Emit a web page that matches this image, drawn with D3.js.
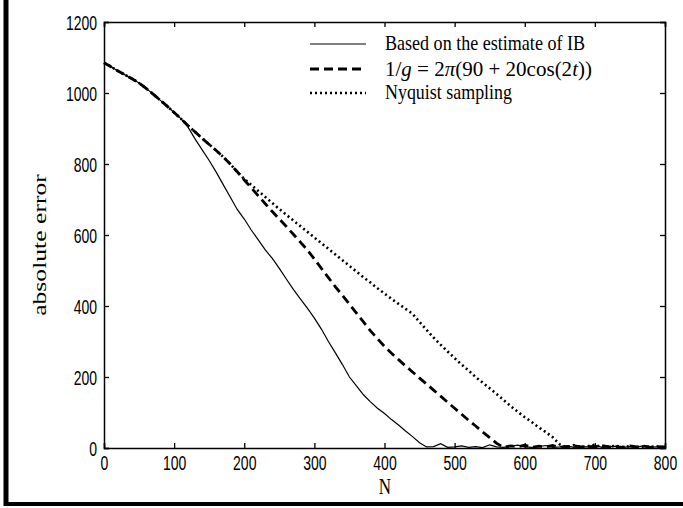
<!DOCTYPE html>
<html>
<head>
<meta charset="utf-8">
<script src="https://cdn.jsdelivr.net/npm/d3@7"></script>
<style>
  body { margin: 0; background: #fff; }
  .tick text { font-family: "Liberation Sans", Arial, sans-serif; font-size: 14px; }
</style>
</head>
<body>
<div class="container"></div>
<script>
// N sampled every 10 from 0 to 800
const nValues = d3.range(0, 810, 10);

const ibError = [1085, 1074, 1062, 1051, 1040, 1028, 1013, 997, 980, 963, 945, 927,
  903, 870, 840, 810, 777, 742, 707, 672, 645, 614, 586, 558, 534, 506, 476, 447, 420, 394,
  366, 335, 300, 268, 235, 200, 175, 150, 130, 112, 97, 80, 65, 48, 32, 15, 3,
  4, 12, 2, 3, 6, 2, 4, 1, 9, 3, 2, 5, 8, 3, 2, 4, 7, 2, 3, 6, 2, 4, 3, 8, 2, 3, 5, 2, 4, 3, 6, 2, 4, 3];

const gError = [1085, 1074, 1062, 1051, 1040, 1028, 1013, 997, 980, 963, 945, 927,
  908, 890, 872, 855, 838, 820, 800, 778, 755, 733, 710, 688, 666, 645, 624, 602, 580, 558,
  532, 506, 480, 454, 430, 405, 380, 355, 330, 308, 286, 267, 249, 231, 214, 197, 180, 163,
  146, 129, 112, 95, 78, 62, 45, 29, 13, 2,
  6, 3, 8, 2, 5, 3, 7, 2, 4, 6, 3, 5, 2, 7, 3, 4, 2, 6, 3, 5, 2, 4, 3];

const nyquistError = [1085, 1074, 1062, 1051, 1040, 1028, 1013, 997, 980, 963, 945, 927,
  908, 890, 872, 855, 838, 820, 800, 778, 758, 741, 724, 707, 690, 673, 657, 641, 625, 609,
  593, 577, 561, 545, 529, 513, 497, 481, 466, 450, 435, 420, 406, 392, 378, 355, 333, 311,
  291, 272, 253, 235, 218, 200, 184, 168, 152, 135, 118, 102, 87, 73, 58, 45, 30, 10, 2,
  8, 3, 5, 9, 2, 4, 6, 3, 5, 2, 4, 3, 5];

const xTicks = [0, 100, 200, 300, 400, 500, 600, 700, 800];
const yTicks = [0, 200, 400, 600, 800, 1000, 1200];

const seriesNames = ['Based on the estimate of IB', '1/g = 2π(90+20cos(2t))', 'Nyquist sampling'];

const width = 683;
const height = 508;
const margin = { top: 22, right: 18, bottom: 60, left: 104 };
const innerW = width - margin.left - margin.right;
const innerH = height - margin.top - margin.bottom;
const serif = '"Liberation Serif", "Times New Roman", serif';

const svg = d3.select('.container')
  .append('svg')
  .attr('width', width)
  .attr('height', height);

// outer frame (left and bottom only)
svg.append('line').attr('x1', 6).attr('x2', 6).attr('y1', 0).attr('y2', 506)
  .attr('stroke', '#000').attr('stroke-width', 5);
svg.append('line').attr('x1', 4).attr('x2', width).attr('y1', 504).attr('y2', 504)
  .attr('stroke', '#000').attr('stroke-width', 4);

const g = svg.append('g')
  .attr('transform', `translate(${margin.left}, ${margin.top})`);

const xScale = d3.scaleLinear().domain([0, 800]).range([0, innerW]);
const yScale = d3.scaleLinear().domain([0, 1200]).range([innerH, 0]);

// axes with inward ticks on all sides
const gx = g.append('g')
  .attr('transform', `translate(0, ${innerH})`)
  .call(d3.axisBottom(xScale).tickValues(xTicks).tickSize(-5).tickFormat(d3.format('d')));
const gy = g.append('g')
  .call(d3.axisLeft(yScale).tickValues(yTicks).tickSize(-5).tickPadding(7).tickFormat(d3.format('d')));
g.append('g')
  .call(d3.axisTop(xScale).tickValues(xTicks).tickSize(-5).tickFormat(''));
g.append('g')
  .attr('transform', `translate(${innerW}, 0)`)
  .call(d3.axisRight(yScale).tickValues(yTicks).tickSize(-5).tickFormat(''));

g.selectAll('.domain').attr('stroke', '#000').attr('stroke-width', 1.5);
g.selectAll('.tick line').attr('stroke', '#000').attr('stroke-width', 1.3);
g.selectAll('.tick text').attr('fill', '#000');

// the scanned figure is stretched vertically, so stretch the tick labels too
gx.selectAll('.tick text')
  .attr('y', 0).attr('dy', 0)
  .attr('transform', 'translate(0, 22) scale(1, 1.4)');
gy.selectAll('.tick text')
  .attr('y', 0).attr('dy', '0.36em')
  .attr('transform', 'scale(1, 1.4)');

const line = d3.line()
  .x((d, i) => xScale(nValues[i]))
  .y(d => yScale(d));

g.append('path')
  .attr('d', line(nyquistError))
  .attr('fill', 'none').attr('stroke', '#000').attr('stroke-width', 2.6)
  .attr('stroke-dasharray', '2,3');

g.append('path')
  .attr('d', line(gError))
  .attr('fill', 'none').attr('stroke', '#000').attr('stroke-width', 2.8)
  .attr('stroke-dasharray', '9,5');

g.append('path')
  .attr('d', line(ibError))
  .attr('fill', 'none').attr('stroke', '#000').attr('stroke-width', 1.2);

// axis labels
svg.append('text')
  .attr('transform', 'translate(46, 245) rotate(-90) scale(1.35, 1)')
  .attr('text-anchor', 'middle')
  .style('font-family', serif)
  .style('font-size', '19px')
  .text('absolute error');

svg.append('text')
  .attr('transform', 'translate(385, 494) scale(1, 1.3)')
  .attr('text-anchor', 'middle')
  .style('font-family', serif)
  .style('font-size', '17px')
  .text('N');

// legend
const legend = svg.append('g').attr('transform', 'translate(310, 44)');
const styles = [
  { w: 1.2, dash: null },
  { w: 2.8, dash: '9,5' },
  { w: 2.6, dash: '2,3' }
];
const rowY = [0, 25, 49];
styles.forEach((s, i) => {
  legend.append('line')
    .attr('x1', 0).attr('x2', 56)
    .attr('y1', rowY[i]).attr('y2', rowY[i])
    .attr('stroke', '#000').attr('stroke-width', s.w)
    .attr('stroke-dasharray', s.dash);
});

legend.append('text')
  .attr('transform', `translate(75, ${rowY[0] + 6}) scale(1, 1.2)`)
  .attr('textLength', 200).attr('lengthAdjust', 'spacingAndGlyphs')
  .style('font-family', serif).style('font-size', '17px')
  .text(seriesNames[0]);

// formula entry, with italic symbols
const f = legend.append('text')
  .attr('transform', `translate(75, ${rowY[1] + 7}) scale(1, 1.15)`)
  .attr('textLength', 207).attr('lengthAdjust', 'spacingAndGlyphs')
  .style('font-family', serif).style('font-size', '18px');
f.append('tspan').text('1/');
f.append('tspan').style('font-style', 'italic').text('g');
f.append('tspan').text(' = 2');
f.append('tspan').style('font-style', 'italic').text('π');
f.append('tspan').text('(90 + 20cos(2');
f.append('tspan').style('font-style', 'italic').text('t');
f.append('tspan').text('))');

legend.append('text')
  .attr('transform', `translate(75, ${rowY[2] + 6}) scale(1, 1.2)`)
  .attr('textLength', 127).attr('lengthAdjust', 'spacingAndGlyphs')
  .style('font-family', serif).style('font-size', '17px')
  .text(seriesNames[2]);
</script>
</body>
</html>
